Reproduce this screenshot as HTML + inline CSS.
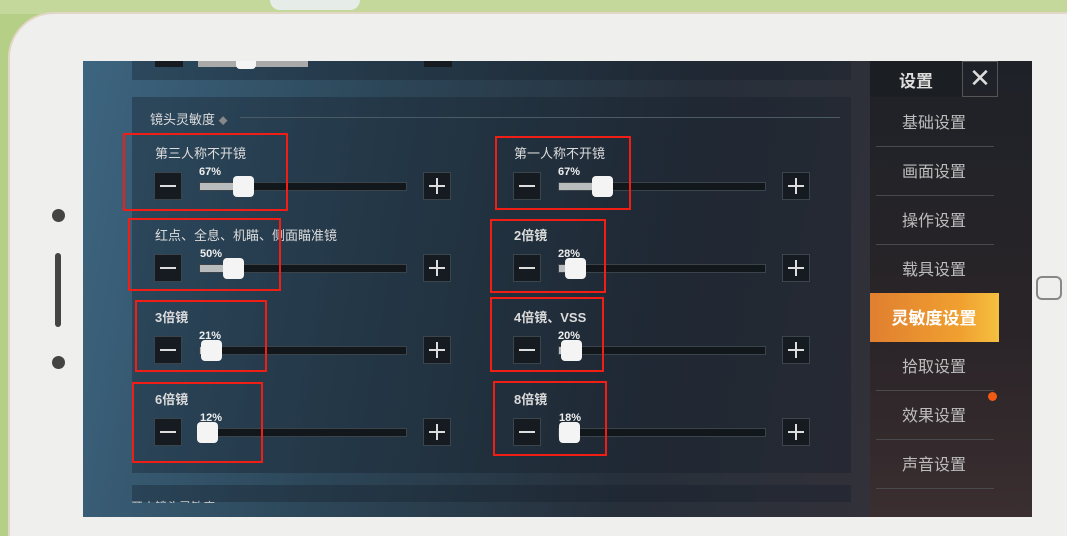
<!DOCTYPE html>
<html><head><meta charset="utf-8"><style>
*{margin:0;padding:0;box-sizing:border-box}
html,body{width:1067px;height:536px;overflow:hidden}
body{position:relative;background:#b5cf86;font-family:"Liberation Sans","Noto Sans CJK SC",sans-serif}
.a{position:absolute}
.phone{left:8px;top:12px;width:1059px;height:524px;background:#efefed;border-radius:46px 0 0 0;border-top:2px solid #e2d6c6;border-left:2px solid #e2d6c6}
.screen{left:83px;top:61px;width:949px;height:456px;background:linear-gradient(100deg,#3d6580 0%,#2c4658 30%,#262f3a 60%,#3a3238 100%)}
.panel{background:rgba(20,30,40,0.35)}
.mb{width:28px;height:28px;background:#151b20;border:1px solid #3b454c}
.mb:after{content:"";position:absolute;left:5px;top:12px;width:16px;height:2px;background:#ddd}
.pb{width:28px;height:28px;background:#151b20;border:1px solid #3b454c}
.pb:after{content:"";position:absolute;left:5px;top:12px;width:16px;height:2px;background:#ddd}
.pb:before{content:"";position:absolute;left:12px;top:5px;width:2px;height:16px;background:#ddd}
.tr{height:9px;width:208px;background:#11171b;border:1px solid #3a444a}
.fl{height:7px;background:#b9bcbc}
.th{width:21px;height:21px;background:#f4f4f4;border-radius:4px}
.lb{color:#dcdcdc;font-size:13px;white-space:nowrap}
.pc{color:#eee;font-size:11px;font-weight:bold}
.rb{border:2.5px solid #f01e14}
.sb{color:#bdbdbd;font-size:16px;width:130px;text-align:center;left:869px}
.sl{left:876px;width:118px;height:1px;background:#4a4a4e}
</style></head><body>
<div class="a" style="left:0;top:0;width:1067px;height:14px;background:#c3d89a"></div>
<div class="a" style="left:270px;top:0;width:90px;height:10px;background:#e6ece8;border-radius:0 0 40px 40px"></div>
<div class="a phone"></div>
<div class="a" style="left:52px;top:209px;width:13px;height:13px;border-radius:50%;background:#444"></div>
<div class="a" style="left:55px;top:253px;width:6px;height:74px;border-radius:3px;background:#444"></div>
<div class="a" style="left:52px;top:356px;width:13px;height:13px;border-radius:50%;background:#444"></div>
<div class="a" style="left:1036px;top:276px;width:26px;height:24px;border-radius:6px;border:2px solid #888"></div>

<div class="a screen"></div>
<div class="a panel" style="left:132px;top:61px;width:719px;height:19px"></div>
<div class="a" style="left:155px;top:61px;width:28px;height:6px;background:#151b20"></div>
<div class="a" style="left:198px;top:61px;width:110px;height:6px;background:#aaa"></div>
<div class="a" style="left:236px;top:61px;width:20px;height:8px;background:#f4f4f4;border-radius:0 0 4px 4px"></div>
<div class="a" style="left:424px;top:61px;width:28px;height:6px;background:#151b20"></div>
<div class="a panel" style="left:132px;top:97px;width:719px;height:376px"></div>
<div class="a panel" style="left:132px;top:485px;width:719px;height:17px"></div>
<div class="a lb" style="left:131px;top:498px;font-size:12px;color:#ccc;height:5px;overflow:hidden">开火镜头灵敏度</div>
<div class="a lb" style="left:150px;top:109px">镜头灵敏度 <span style="color:#888;font-size:9px">◆</span></div>
<div class="a" style="left:240px;top:117px;width:600px;height:1px;background:#4b5b66"></div>

<!-- sidebar -->
<div class="a" style="left:870px;top:61px;width:162px;height:456px;background:linear-gradient(180deg,#1e2228,#2a2428 60%,#3a2e30)"></div>
<div class="a" style="left:870px;top:61px;width:92px;height:36px;background:#1b1e22"></div>
<div class="a" style="left:870px;top:67px;width:92px;text-align:center;color:#ddd;font-size:17px;font-weight:bold">设置</div>
<div class="a" style="left:962px;top:61px;width:36px;height:36px;border:1px solid #555;color:#ddd;font-size:26px;line-height:32px;text-align:center">✕</div>
<div class="a sb" style="top:109px">基础设置</div><div class="a sl" style="top:146px"></div>
<div class="a sb" style="top:158px">画面设置</div><div class="a sl" style="top:195px"></div>
<div class="a sb" style="top:207px">操作设置</div><div class="a sl" style="top:244px"></div>
<div class="a sb" style="top:256px">载具设置</div>
<div class="a" style="left:870px;top:293px;width:129px;height:49px;background:linear-gradient(90deg,#e07f30,#f0a030 70%,#f5c040)"></div>
<div class="a sb" style="top:304px;color:#fff;font-weight:bold;font-size:17px">灵敏度设置</div>
<div class="a sb" style="top:353px">拾取设置</div><div class="a sl" style="top:390px"></div>
<div class="a" style="left:988px;top:392px;width:9px;height:9px;border-radius:50%;background:#f05a14"></div>
<div class="a sb" style="top:402px">效果设置</div><div class="a sl" style="top:439px"></div>
<div class="a sb" style="top:451px">声音设置</div><div class="a sl" style="top:488px"></div>

<!-- left column -->
<div class="a lb" style="left:155px;top:143px">第三人称不开镜</div>
<div class="a mb" style="left:154px;top:172px"></div>
<div class="a tr" style="left:199px;top:182px"><div class="fl" style="width:44px"></div></div>
<div class="a th" style="left:233px;top:176px"></div>
<div class="a pc" style="left:199px;top:166px">67%</div>
<div class="a pb" style="left:423px;top:172px"></div>

<div class="a lb" style="left:155px;top:225px">红点、全息、机瞄、侧面瞄准镜</div>
<div class="a mb" style="left:154px;top:254px"></div>
<div class="a tr" style="left:199px;top:264px"><div class="fl" style="width:34px"></div></div>
<div class="a th" style="left:223px;top:258px"></div>
<div class="a pc" style="left:200px;top:248px">50%</div>
<div class="a pb" style="left:423px;top:254px"></div>

<div class="a lb" style="left:155px;top:307px;font-weight:bold">3倍镜</div>
<div class="a mb" style="left:154px;top:336px"></div>
<div class="a tr" style="left:199px;top:346px"><div class="fl" style="width:12px"></div></div>
<div class="a th" style="left:201px;top:340px"></div>
<div class="a pc" style="left:199px;top:330px">21%</div>
<div class="a pb" style="left:423px;top:336px"></div>

<div class="a lb" style="left:155px;top:389px;font-weight:bold">6倍镜</div>
<div class="a mb" style="left:154px;top:418px"></div>
<div class="a tr" style="left:199px;top:428px"><div class="fl" style="width:8px"></div></div>
<div class="a th" style="left:197px;top:422px"></div>
<div class="a pc" style="left:200px;top:412px">12%</div>
<div class="a pb" style="left:423px;top:418px"></div>

<!-- right column -->
<div class="a lb" style="left:514px;top:143px">第一人称不开镜</div>
<div class="a mb" style="left:513px;top:172px"></div>
<div class="a tr" style="left:558px;top:182px"><div class="fl" style="width:44px"></div></div>
<div class="a th" style="left:592px;top:176px"></div>
<div class="a pc" style="left:558px;top:166px">67%</div>
<div class="a pb" style="left:782px;top:172px"></div>

<div class="a lb" style="left:514px;top:225px;font-weight:bold">2倍镜</div>
<div class="a mb" style="left:513px;top:254px"></div>
<div class="a tr" style="left:558px;top:264px"><div class="fl" style="width:16px"></div></div>
<div class="a th" style="left:565px;top:258px"></div>
<div class="a pc" style="left:558px;top:248px">28%</div>
<div class="a pb" style="left:782px;top:254px"></div>

<div class="a lb" style="left:514px;top:307px;font-weight:bold">4倍镜、VSS</div>
<div class="a mb" style="left:513px;top:336px"></div>
<div class="a tr" style="left:558px;top:346px"><div class="fl" style="width:12px"></div></div>
<div class="a th" style="left:561px;top:340px"></div>
<div class="a pc" style="left:558px;top:330px">20%</div>
<div class="a pb" style="left:782px;top:336px"></div>

<div class="a lb" style="left:514px;top:389px;font-weight:bold">8倍镜</div>
<div class="a mb" style="left:513px;top:418px"></div>
<div class="a tr" style="left:558px;top:428px"><div class="fl" style="width:10px"></div></div>
<div class="a th" style="left:559px;top:422px"></div>
<div class="a pc" style="left:559px;top:412px">18%</div>
<div class="a pb" style="left:782px;top:418px"></div>

<!-- red boxes -->
<div class="a rb" style="left:123px;top:133px;width:165px;height:78px"></div>
<div class="a rb" style="left:128px;top:218px;width:153px;height:73px"></div>
<div class="a rb" style="left:135px;top:300px;width:132px;height:72px"></div>
<div class="a rb" style="left:132px;top:382px;width:131px;height:81px"></div>
<div class="a rb" style="left:495px;top:136px;width:136px;height:74px"></div>
<div class="a rb" style="left:490px;top:219px;width:116px;height:74px"></div>
<div class="a rb" style="left:490px;top:297px;width:114px;height:75px"></div>
<div class="a rb" style="left:493px;top:381px;width:114px;height:75px"></div>
</body></html>
